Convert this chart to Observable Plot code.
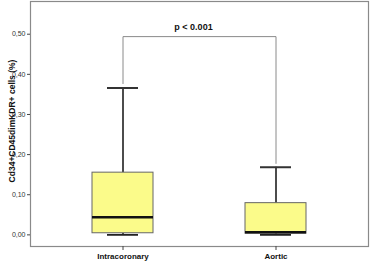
<!DOCTYPE html>
<html><head><meta charset="utf-8">
<script src="https://cdn.jsdelivr.net/npm/d3@7"></script>
<script src="https://cdn.jsdelivr.net/npm/@observablehq/plot@0.6"></script>
<style>body{margin:0;background:#fff}</style>
</head><body><div id="chart"></div>
<script>
const categories = ["Intracoronary", "Aortic"];
const whiskerLow = [0.000, 0.000];
const q1 = [0.004, 0.003];
const median = [0.044, 0.0065];
const q3 = [0.155, 0.079];
const whiskerHigh = [0.366, 0.1685];
const yTicks = [0, 0.1, 0.2, 0.3, 0.4, 0.5];
const bracketX = ["Intracoronary", "Intracoronary", "Aortic", "Aortic"];
const bracketY = [0.377, 0.494, 0.494, 0.178];
const pLabel = "p < 0.001";
const yLabel = "Cd34+CD45dimKDR+ cells (%)";

const boxes = categories.map((c, i) => ({
  c, lo: whiskerLow[i], q1: q1[i], med: median[i], q3: q3[i], hi: whiskerHigh[i]
}));
const bracket = bracketX.map((x, i) => ({x, y: bracketY[i]}));

const fmt = d => d.toFixed(2).replace(".", ",");

const plot = Plot.plot({
  width: 371, height: 262,
  marginLeft: 30, marginRight: 3, marginTop: 1, marginBottom: 16,
  style: {fontFamily: "'Liberation Sans', Arial, sans-serif", background: "#fff"},
  x: {domain: categories, paddingInner: 0.6, paddingOuter: 0.4, label: null},
  y: {domain: [-0.029, 0.5815], label: null},
  marks: [
    Plot.frame({stroke: "#8a8a8a", strokeWidth: 1.2}),
    Plot.axisY({ticks: yTicks, tickFormat: fmt, tickSize: 3, tickPadding: 2, fontSize: 7, stroke: "#444", color: "#333"}),
    Plot.axisX({tickSize: 4, tickPadding: 3, fontSize: 8, fontWeight: "bold", stroke: "#444", color: "#111"}),
    Plot.text([yLabel], {frameAnchor: "left", textAnchor: "middle", rotate: -90, dx: -18, dy: -3, fontSize: 8.5, fontWeight: "bold", fill: "#111"}),
    Plot.line(bracket, {x: "x", y: "y", stroke: "#8a8a8a", strokeWidth: 1}),
    Plot.text([pLabel], {frameAnchor: "top", dy: 22, dx: -6, fontSize: 9, fontWeight: "bold", fill: "#111"}),
    Plot.ruleX(boxes, {x: "c", y1: "lo", y2: "q1", stroke: "#111", strokeWidth: 1.5}),
    Plot.ruleX(boxes, {x: "c", y1: "q3", y2: "hi", stroke: "#111", strokeWidth: 1.5}),
    Plot.tickY(boxes, {x: "c", y: "lo", stroke: "#222", strokeWidth: 1.8, insetLeft: 15, insetRight: 15}),
    Plot.tickY(boxes, {x: "c", y: "hi", stroke: "#333", strokeWidth: 2, insetLeft: 15, insetRight: 15}),
    Plot.barY(boxes, {x: "c", y1: "q1", y2: "q3", fill: "#fbfb8a", stroke: "#666", strokeWidth: 1}),
    Plot.tickY(boxes, {x: "c", y: "med", stroke: "#111", strokeWidth: 2.5})
  ]
});
document.getElementById("chart").appendChild(plot);
</script>
</body></html>
